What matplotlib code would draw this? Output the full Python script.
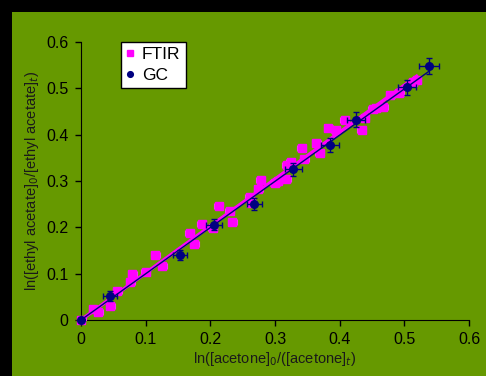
import matplotlib
matplotlib.use("Agg")
import matplotlib.pyplot as plt
import numpy as np
from matplotlib.patches import Rectangle

plt.rcParams['font.family'] = ['Liberation Sans', 'DejaVu Sans']

# FTIR data
ftir_x = [0.0, 0.019, 0.027, 0.045, 0.056, 0.076, 0.079, 0.100, 0.115, 0.126,
          0.168, 0.175, 0.187, 0.204, 0.213, 0.230, 0.234, 0.261, 0.263, 0.274,
          0.278, 0.300, 0.304, 0.317, 0.318, 0.324, 0.341, 0.345, 0.364, 0.369,
          0.382, 0.394, 0.408, 0.434, 0.439, 0.451, 0.456, 0.467, 0.478, 0.492,
          0.513, 0.519]
ftir_y = [0.0, 0.023, 0.018, 0.031, 0.063, 0.083, 0.099, 0.103, 0.140, 0.117,
          0.187, 0.164, 0.208, 0.198, 0.245, 0.235, 0.211, 0.266, 0.253, 0.282,
          0.302, 0.296, 0.299, 0.304, 0.335, 0.342, 0.372, 0.347, 0.383, 0.360,
          0.414, 0.409, 0.432, 0.410, 0.437, 0.455, 0.457, 0.460, 0.486, 0.489,
          0.514, 0.518]
ftir_xerr = 0.007
ftir_yerr = 0.005

# GC data
gc_x = [0.0, 0.045, 0.153, 0.206, 0.268, 0.328, 0.385, 0.425, 0.504, 0.538]
gc_y = [0.0, 0.052, 0.140, 0.206, 0.250, 0.325, 0.378, 0.432, 0.502, 0.548]
gc_xerr = [0.0, 0.011, 0.011, 0.012, 0.012, 0.013, 0.014, 0.014, 0.014, 0.015]
gc_yerr = [0.0, 0.011, 0.011, 0.012, 0.013, 0.014, 0.015, 0.016, 0.016, 0.017]

green = '#669900'
fig = plt.figure(figsize=(4.86, 3.76), dpi=100, facecolor='black')
fig.patches.append(Rectangle((12 / 486, 0), 1, 1 - 12 / 376, transform=fig.transFigure,
                             facecolor=green, edgecolor='none', zorder=-10))
ax = fig.add_axes([81 / 486, 1 - 320 / 376, 388 / 486, 278 / 376])
ax.set_facecolor('none')

fx, fy = np.array(ftir_x), np.array(ftir_y)
gx, gy = np.array(gc_x), np.array(gc_y)
k_ftir = (fx * fy).sum() / (fx * fx).sum()
k_gc = (gx * gy).sum() / (gx * gx).sum()

e1 = ax.errorbar(ftir_x, ftir_y, xerr=ftir_xerr, yerr=ftir_yerr, fmt='s', color='#ff00ff',
                 ecolor='#ff33ff', ms=5.5, elinewidth=0.8, capsize=2, capthick=0.8,
                 label='FTIR', zorder=3)
ax.plot([0, fx.max()], [0, k_ftir * fx.max()], color='#ff00ff', lw=2.5, zorder=4)
e2 = ax.errorbar(gc_x, gc_y, xerr=gc_xerr, yerr=gc_yerr, fmt='o', color='#000080',
                 ecolor='#000080', ms=5.5, elinewidth=1, capsize=2.5, capthick=1,
                 label='GC', zorder=5)
ax.plot([0, gx.max()], [0, k_gc * gx.max()], color='#000080', lw=1, zorder=6)
for e in (e1, e2):
    e[0].set_clip_on(False)

ax.set_xlim(0, 0.6)
ax.set_ylim(0, 0.6)
ax.set_xticks(np.arange(0, 0.61, 0.1))
ax.set_yticks(np.arange(0, 0.61, 0.1))
ax.set_xticklabels(['0', '0.1', '0.2', '0.3', '0.4', '0.5', '0.6'])
ax.set_yticklabels(['0', '0.1', '0.2', '0.3', '0.4', '0.5', '0.6'])
ax.tick_params(direction='out', length=4, width=1, colors='black', labelsize=11.5, pad=5)
for s in ['top', 'right']:
    ax.spines[s].set_visible(False)
for s in ['left', 'bottom']:
    ax.spines[s].set_color('black')
ax.set_xlabel('ln([acetone]$_0$/([acetone]$_t$)', fontsize=10.5, labelpad=2)
ax.set_ylabel('ln([ethyl acetate]$_0$/[ethyl acetate]$_t$)', fontsize=10.5, labelpad=4)
ax.xaxis.label.set_color('#1a1a1a')
ax.yaxis.label.set_color('#1a1a1a')

handles, labels = ax.get_legend_handles_labels()
handles = [h[0] for h in handles]
leg = ax.legend(handles, labels, loc='upper left', bbox_to_anchor=(0.103, 1.0),
                fontsize=12.5, frameon=True, fancybox=False, edgecolor='black',
                handlelength=0.4, handletextpad=0.5, borderpad=0.3, labelspacing=0.3,
                borderaxespad=0, markerscale=0.75)
leg.get_frame().set_linewidth(1)
leg.get_frame().set_alpha(1)

fig.savefig('out.png', dpi=100, facecolor=fig.get_facecolor())
